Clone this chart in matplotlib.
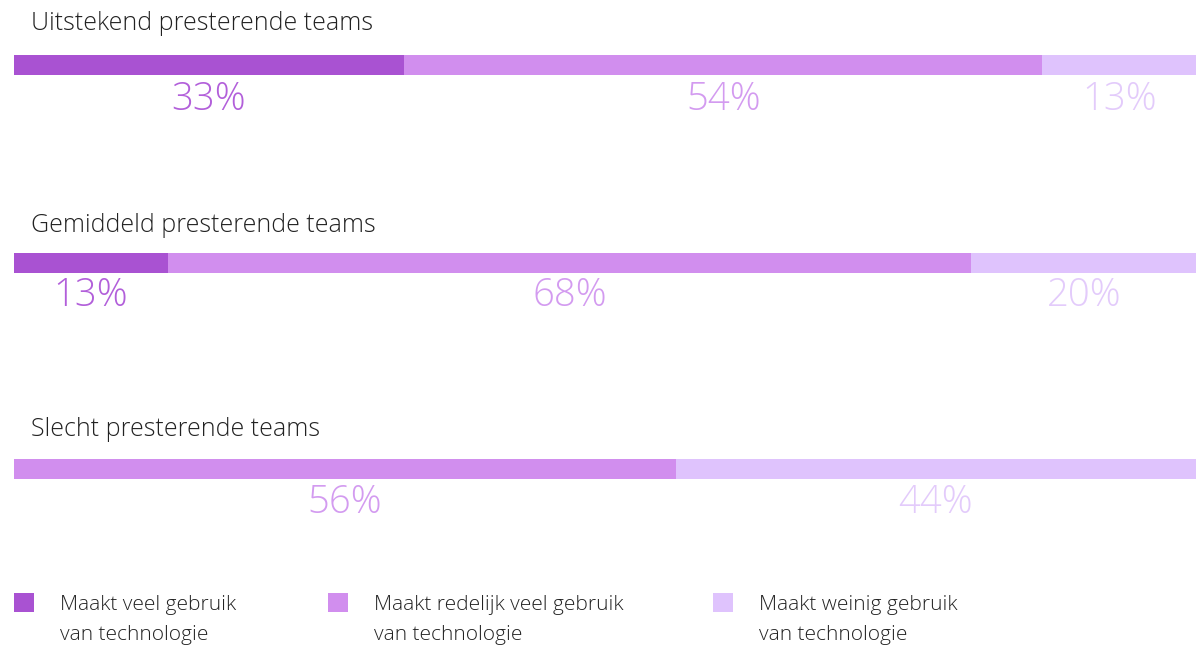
import numpy as np
import matplotlib
matplotlib.use("Agg")
import matplotlib.pyplot as plt
from matplotlib.patches import Rectangle

groups = ["Uitstekend presterende teams", "Gemiddeld presterende teams", "Slecht presterende teams"]
veel = [33, 13, 0]
redelijk = [54, 68, 56]
weinig = [13, 20, 44]
legend_labels = [("Maakt veel gebruik", "van technologie"),
                 ("Maakt redelijk veel gebruik", "van technologie"),
                 ("Maakt weinig gebruik", "van technologie")]
colors = ["#a952d2", "#d18eee", "#dfc3fd"]
text_colors = ["#b25fda", "#d39bf0", "#e3cbfb"]

W, H = 1196, 645
fig = plt.figure(figsize=(W / 100, H / 100), dpi=100)
ax = fig.add_axes([14 / W, 0, 1182 / W, 1])
ax.set_xlim(0, 100)
ax.set_ylim(H, 0)   # y in pixel rows, top down
ax.axis("off")

bar_y = [65, 263, 469]
title_y = [24, 225, 430]
pct_y = [100, 296, 503]
bar_h = 20

for i, g in enumerate(groups):
    vals = [veel[i], redelijk[i], weinig[i]]
    left = 0
    ax.text(1.45, title_y[i], g, fontsize=18, family="Open Sans", weight="light",
            color="#222222", va="center", ha="left")
    for k, v in enumerate(vals):
        if v == 0:
            continue
        right = min(left + v, 100)
        ax.barh(bar_y[i], right - left, left=left, height=bar_h, color=colors[k], lw=0)
        ax.text((left + right) / 2, pct_y[i], f"{v}%", fontsize=27.5, family="Open Sans",
                weight="light", color=text_colors[k], ha="center", va="center")
        left = right

# legend along the bottom
leg_x = [14, 328, 713]
for k, (l1, l2) in enumerate(legend_labels):
    fig.patches.append(Rectangle((leg_x[k] / W, 1 - 612 / H), 20 / W, 19 / H,
                                 transform=fig.transFigure, color=colors[k], lw=0))
    for line, yy in zip((l1, l2), (605, 635)):
        fig.text((leg_x[k] + 46) / W, 1 - yy / H, line, fontsize=15, family="Open Sans",
                 weight="light", color="#222222", va="center", ha="left")

fig.savefig("out.png", dpi=100)
